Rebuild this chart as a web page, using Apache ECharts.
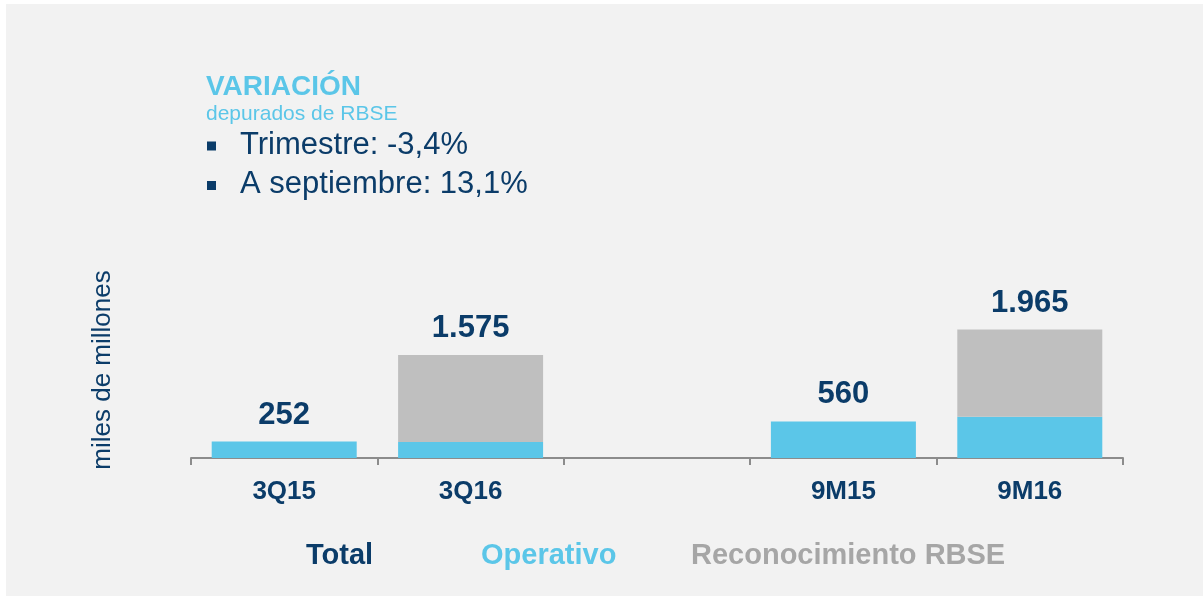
<!DOCTYPE html>
<html>
<head>
<meta charset="utf-8">
<script src="https://cdn.jsdelivr.net/npm/echarts@6/dist/echarts.min.js"></script>
<style>
  html, body { margin: 0; padding: 0; background: #fff; }
  #chart { width: 1203px; height: 596px; }
</style>
</head>
<body>
<div id="chart"></div>
<script>
// datos (miles de millones)
var categories = ['3Q15', '3Q16', '', '9M15', '9M16']
var operativo = [252, 243, '-', 560, 633]
var rbse = ['-', 1332, '-', '-', 1332]
var totals = [252, 1575, '-', 560, 1965]

var DARK = '#0b3c69'
var LIGHT = '#5bc6e8'
var GREY = '#bfbfbf'
var FONT = '"Liberation Sans", Arial, sans-serif'

function fmt (v) {
  return String(v).replace(/\B(?=(\d{3})+(?!\d))/g, '.')
}

var chart = echarts.init(document.getElementById('chart'))

function legendItem (name, color, left) {
  return {
    data: [name],
    left: left,
    top: 536,
    itemWidth: 0,
    itemHeight: 0,
    icon: 'rect',
    selectedMode: false,
    textStyle: { color: color, fontSize: 29, fontWeight: 'bold', fontFamily: FONT }
  }
}

chart.setOption({
  backgroundColor: '#fff',
  animation: false,
  textStyle: { fontFamily: FONT },
  graphic: [
    { type: 'rect', z: -10, shape: { x: 6, y: 4, width: 1197, height: 592 }, style: { fill: '#f2f2f2' } },
    { type: 'text', x: 206, y: 87.5, style: { text: 'VARIACIÓN', font: 'bold 28px ' + FONT, fill: LIGHT, textVerticalAlign: 'middle' } },
    { type: 'text', x: 206, y: 114, style: { text: 'depurados de RBSE', font: '21px ' + FONT, fill: LIGHT, textVerticalAlign: 'middle' } },
    { type: 'rect', shape: { x: 207, y: 141.5, width: 9, height: 9 }, style: { fill: DARK } },
    { type: 'text', x: 240, y: 145, style: { text: 'Trimestre: -3,4%', font: '31px ' + FONT, fill: DARK, textVerticalAlign: 'middle' } },
    { type: 'rect', shape: { x: 207, y: 181, width: 9, height: 9 }, style: { fill: DARK } },
    { type: 'text', x: 240, y: 184.5, style: { text: 'A septiembre: 13,1%', font: '31px ' + FONT, fill: DARK, textVerticalAlign: 'middle' } },
    // titulo del eje
    { type: 'text', x: 103, y: 370, rotation: Math.PI / 2, style: { text: 'miles de millones', font: '26px ' + FONT, fill: DARK, textAlign: 'center', textVerticalAlign: 'middle' } }
  ],
  legend: [
    legendItem('Total', DARK, 296),
    legendItem('Operativo', LIGHT, 471),
    legendItem('Reconocimiento RBSE', '#a6a6a6', 681)
  ],
  grid: { left: 191, right: 80, top: 262, bottom: 138 },
  xAxis: {
    type: 'category',
    data: categories,
    axisLine: { lineStyle: { color: '#8c8c8c', width: 2 } },
    axisTick: { show: true, length: 7, lineStyle: { color: '#8c8c8c', width: 2 } },
    axisLabel: { color: DARK, fontSize: 26, fontWeight: 'bold', margin: 21 }
  },
  yAxis: {
    type: 'value',
    min: 0,
    max: 3000,
    show: false
  },
  series: [
    {
      name: 'Operativo',
      type: 'bar',
      stack: 'a',
      barWidth: 145,
      data: operativo,
      itemStyle: { color: LIGHT }
    },
    {
      name: 'Reconocimiento RBSE',
      type: 'bar',
      stack: 'a',
      barWidth: 145,
      data: rbse,
      itemStyle: { color: GREY }
    },
    {
      name: 'Total',
      type: 'bar',
      barWidth: 145,
      barGap: '-100%',
      z: 1,
      data: totals,
      itemStyle: { color: 'rgba(0,0,0,0)' },
      label: {
        show: true,
        position: 'top',
        distance: 11,
        color: DARK,
        fontSize: 31,
        fontWeight: 'bold',
        formatter: function (p) { return fmt(p.value) }
      }
    }
  ]
})
</script>
</body>
</html>
